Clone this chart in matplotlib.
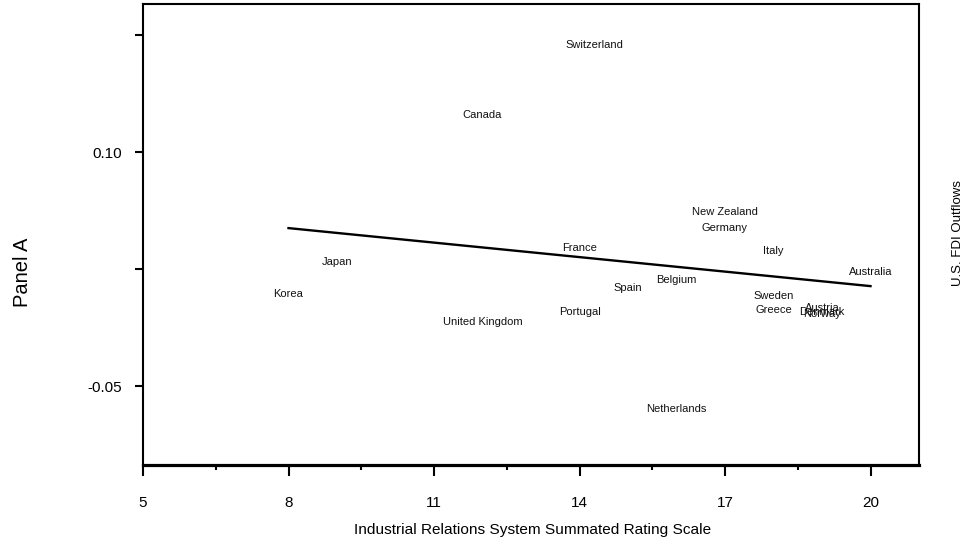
import matplotlib
matplotlib.use("Agg")
import matplotlib.pyplot as plt
from matplotlib.ticker import FixedLocator

plt.rcParams['font.family'] = ['Liberation Sans', 'DejaVu Sans']

countries = ["Switzerland", "Canada", "New Zealand", "Germany", "France", "Italy",
             "Australia", "Japan", "Korea", "Belgium", "Spain", "Sweden", "Greece",
             "Austria", "Denmark", "Norway", "Portugal", "United Kingdom", "Netherlands"]
irs_scale = [14.3, 12, 17, 17, 14, 18, 20, 9, 8, 16, 15, 18, 18, 19, 19, 19, 14, 12, 16]
fdi_outflows = [0.169, 0.124, 0.0615, 0.0513, 0.0385, 0.0365, 0.023, 0.0295, 0.009,
                0.018, 0.0128, 0.0077, -0.0013, 0.0, -0.0026, -0.004, -0.0026, -0.009, -0.065]

fit_x = [8, 20]
fit_y = [0.0513, 0.0141]

xticks = [5, 8, 11, 14, 17, 20]
xminor = [6.5, 9.5, 12.5, 15.5, 18.5]
yticks = [0.175, 0.10, 0.025, -0.05]
ytick_labels = ["", "0.10", "", "-0.05"]

fig = plt.figure(figsize=(9.69, 5.45), dpi=100)
ax = fig.add_axes([143/969, 1-465/545, (919-143)/969, (465-4)/545])

for name, x, y in zip(countries, irs_scale, fdi_outflows):
    ax.text(x, y, name, ha='center', va='center', fontsize=8, color='#111111')

ax.plot(fit_x, fit_y, color='black', lw=1.7)

ax.set_xlim(5, 21)
ax.set_ylim(-0.1006, 0.195)
ax.xaxis.set_major_locator(FixedLocator(xticks))
ax.xaxis.set_minor_locator(FixedLocator(xminor))
ax.set_yticks(yticks)
ax.set_yticklabels(ytick_labels)

for s in ['left', 'right', 'top']:
    ax.spines[s].set_linewidth(1.5)
ax.spines['bottom'].set_linewidth(2.3)

ax.tick_params(axis='x', which='major', direction='out', length=8, width=1.5, pad=14, labelsize=11)
ax.tick_params(axis='x', which='minor', direction='out', length=3.5, width=1.5)
ax.tick_params(axis='y', which='major', direction='out', length=6, width=1.5, pad=9, labelsize=11)

fig.text(533/969, 1-530/545, "Industrial Relations System Summated Rating Scale",
         ha='center', va='center', fontsize=11.1)
fig.text(22/969, 1-272/545, "Panel A", rotation=90, ha='center', va='center', fontsize=14.5)
fig.text(958/969, 1-233/545, "U.S. FDI Outflows", rotation=90, ha='center', va='center', fontsize=9.5)

fig.savefig("out.png", dpi=100)
